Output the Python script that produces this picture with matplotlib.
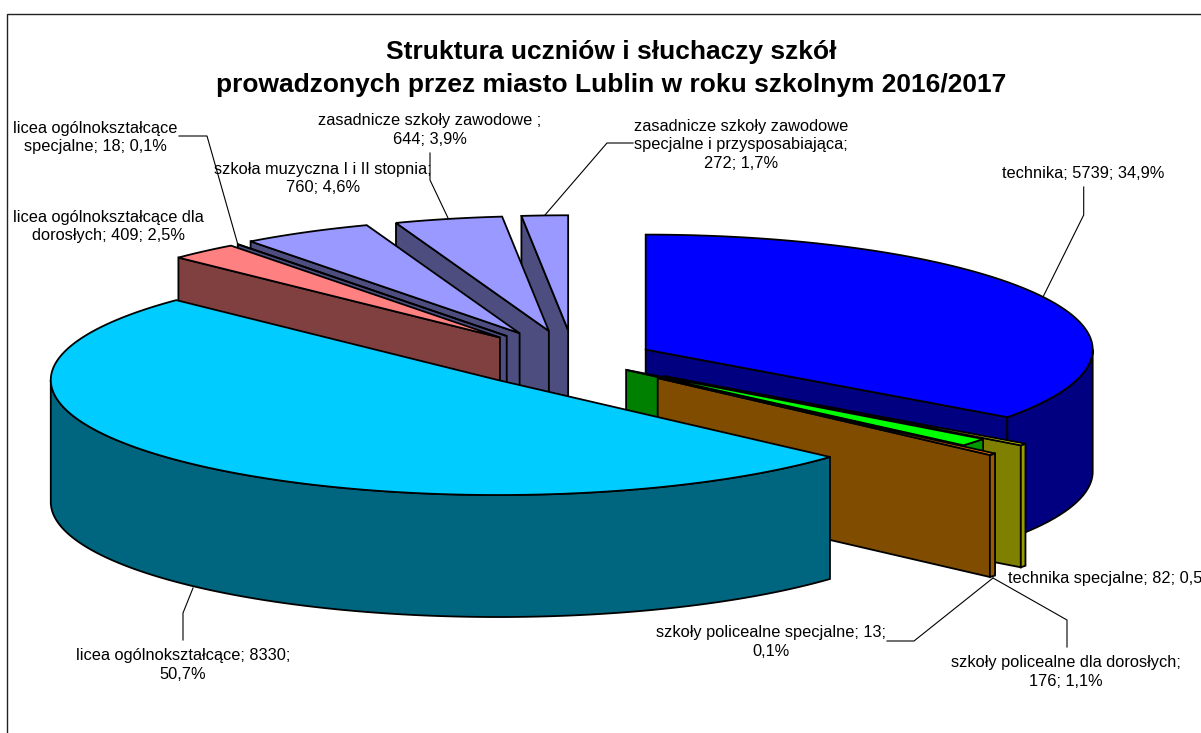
import numpy as np
import matplotlib
matplotlib.use("Agg")
import matplotlib.pyplot as plt
from matplotlib.patches import Polygon, Rectangle

plt.rcParams['font.family'] = ['Liberation Sans', 'DejaVu Sans']

# --- data ---
categories = ["technika", "technika specjalne", "szkoły policealne dla dorosłych",
              "szkoły policealne specjalne", "licea ogólnokształcące",
              "licea ogólnokształcące dla dorosłych", "licea ogólnokształcące specjalne",
              "szkoła muzyczna I i II stopnia", "zasadnicze szkoły zawodowe",
              "zasadnicze szkoły zawodowe specjalne i przysposabiająca"]
values = [5739, 82, 176, 13, 8330, 409, 18, 760, 644, 272]
explode = [0.18, 0.25, 0.15, 0.25, 0.25, 0.25, 0.25, 0.255, 0.25, 0.25]
top_colors = ['#0000FF', '#FFFF00', '#00FF00', '#FF8000', '#00CCFF',
              '#FF8080', '#9999FF', '#9999FF', '#9999FF', '#9999FF']
side_colors = ['#000080', '#808000', '#008000', '#804D00', '#006680',
               '#804040', '#4D4D80', '#4D4D80', '#4D4D80', '#4D4D80']
outer_colors = ['#000080', '#999900', '#009900', '#995C00', '#006680',
                '#804040', '#4D4D80', '#4D4D80', '#4D4D80', '#4D4D80']
draw_order = [0, 1, 2, 3, 9, 8, 7, 6, 5, 4]
title = "Struktura uczniów i słuchaczy szkół\nprowadzonych przez miasto Lublin w roku szkolnym 2016/2017"

label_text = ["technika; 5739; 34,9%",
              "technika specjalne; 82; 0,5%",
              "szkoły policealne dla dorosłych;\n176; 1,1%",
              "szkoły policealne specjalne; 13;\n0,1%",
              "licea ogólnokształcące; 8330;\n50,7%",
              "licea ogólnokształcące dla\ndorosłych; 409; 2,5%",
              "licea ogólnokształcące\nspecjalne; 18; 0,1%",
              "szkoła muzyczna I i II stopnia;\n760; 4,6%",
              "zasadnicze szkoły zawodowe ;\n644; 3,9%",
              "zasadnicze szkoły zawodowe\nspecjalne i przysposabiająca;\n272; 1,7%"]
label_x = [1083, 1008, 1066, 771, 183, 108, 95, 323, 430, 741]
label_y = [173, 578, 672, 642, 665, 226.5, 137.5, 178.5, 130, 145]
label_ha = ['center', 'left', 'center', 'center', 'center', 'center', 'center', 'center', 'center', 'center']
leaders = [[(1083.7, 187), (1083.7, 215), (1043, 297)],
           [],
           [(993, 578), (1067, 620), (1067, 647)],
           [(887, 641), (914, 641), (993, 578)],
           [(193, 588), (183, 613), (183, 640)],
           [],
           [(179, 136), (207, 136), (238, 245)],
           [],
           [(430, 153), (430, 180), (448, 218)],
           [(633, 143), (607, 143), (545, 215)]]

# --- pie geometry ---
cx, cy = 574, 359
rx, ry = 447, 115
depth = 122
lw = 1.3

fig = plt.figure(figsize=(12.01, 7.33), dpi=100)
ax = fig.add_axes([0, 0, 1, 1])
ax.set_xlim(0, 1201)
ax.set_ylim(733, 0)
ax.axis('off')

ax.add_patch(Rectangle((7, 13.5), 1300, 900, fc='white', ec='#222222', lw=1.0, zorder=0))

vals = np.asarray(values, float)
# the slice borders fall on whole degrees
edges = np.round(np.concatenate([[0], np.cumsum(vals) / vals.sum() * 360.0]))


def rim(a_deg, ox, oy):
    a = np.radians(a_deg)
    return np.column_stack([ox + rx * np.sin(a), oy - ry * np.cos(a)])


z = 1
for i in draw_order:
    t1, t2 = edges[i], edges[i + 1]
    mid = np.radians((t1 + t2) / 2)
    e = explode[i] * rx
    ox = cx + e * np.sin(mid)
    oy = cy - e * np.cos(mid) * ry / rx
    apex = np.array([[ox, oy]])
    down = np.array([0, depth])
    side = dict(fc=side_colors[i], ec='black', lw=lw, joinstyle='miter')
    # radial walls that face the viewer
    if np.sin(np.radians(t1)) < -1e-9:
        p = rim(t1, ox, oy)
        ax.add_patch(Polygon(np.vstack([p, apex, apex + down, p + down]), zorder=z, **side))
    if np.sin(np.radians(t2)) > 1e-9:
        p = rim(t2, ox, oy)
        ax.add_patch(Polygon(np.vstack([p, apex, apex + down, p + down]), zorder=z, **side))
    # outer wall: only the front half of the rim is seen
    a, b = max(t1, 90), min(t2, 270)
    if b > a:
        arc = rim(np.linspace(a, b, 200), ox, oy)
        ax.add_patch(Polygon(np.vstack([arc, (arc + down)[::-1]]), zorder=z,
                             fc=outer_colors[i], ec='black', lw=lw, joinstyle='miter'))
    # top face
    n = max(int((t2 - t1) * 3), 4)
    ax.add_patch(Polygon(np.vstack([apex, rim(np.linspace(t1, t2, n), ox, oy)]),
                         fc=top_colors[i], ec='black', lw=lw, joinstyle='miter', zorder=z))
    z += 1

for pts in leaders:
    if pts:
        xs, ys = zip(*pts)
        ax.plot(xs, ys, color='black', lw=0.8, zorder=30, solid_joinstyle='miter')

for txt, x, y, ha in zip(label_text, label_x, label_y, label_ha):
    ax.text(x, y, txt, fontsize=11.8, ha=ha, va='center', multialignment='center',
            linespacing=1.32, color='black', zorder=31)

ax.text(611, 68.5, title, fontsize=19, fontweight='bold', ha='center', va='center',
        multialignment='center', linespacing=1.5, color='black', zorder=31)

fig.savefig('out.png', dpi=100)
